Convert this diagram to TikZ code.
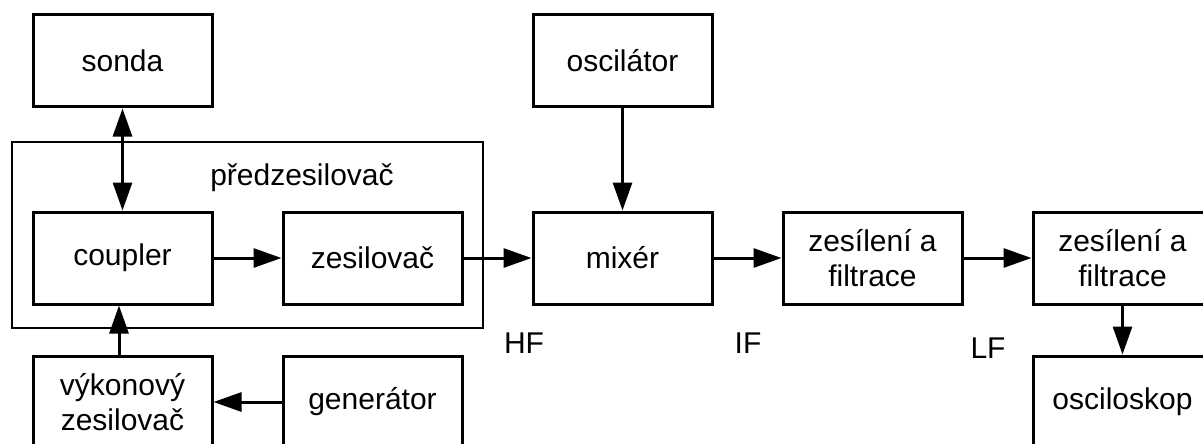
\documentclass[tikz,border=0pt]{standalone}
\usepackage{fontspec}
\setmainfont{Liberation Sans}
\usetikzlibrary{arrows.meta}
\begin{document}
\begin{tikzpicture}[x=1pt,y=-1pt,
  blk/.style={draw,line width=3pt,minimum width=179pt,minimum height=92pt,inner sep=0pt,align=center,font=\fontsize{30}{35}\selectfont},
  lbl/.style={inner sep=0pt,font=\fontsize{30}{35}\selectfont},
  arr/.style={line width=3pt,-{Triangle[length=28pt,width=19pt]}},
  darr/.style={line width=3pt,{Triangle[length=28pt,width=19pt]}-{Triangle[length=28pt,width=19pt]}}]
\useasboundingbox (0,0) rectangle (1203,444);
\clip (0,0) rectangle (1203,444);
\node[draw,line width=1.3pt,minimum width=471pt,minimum height=186pt,inner sep=0pt] (pre) at (247.5,235) {};
\node[lbl] (prel) at (302,178) {předzesilovač};
\node[blk] (sonda) at (122.5,61) {sonda};
\node[blk] (coupler) at (122.5,258) {coupler};
\node[blk] (zesil) at (372.5,258) {zesilovač};
\node[blk] (osc) at (622.5,61) {oscilátor};
\node[blk] (mixer) at (622.5,258) {mixér};
\node[blk] (zes1) at (872.5,258) {zesílení a\\filtrace};
\node[blk] (zes2) at (1122.5,258) {zesílení a\\filtrace};
\node[blk] (vyk) at (122.5,402) {výkonový\\zesilovač};
\node[blk] (gen) at (372.5,402) {generátor};
\node[blk] (oscil) at (1122.5,402) {osciloskop};
\node[lbl] (hf) at (524,343) {HF};
\node[lbl] (if) at (748,343) {IF};
\node[lbl] (lf) at (988,348) {LF};
\draw[darr] (sonda) -- (coupler);
\draw[arr] (coupler) -- (zesil);
\draw[arr] (zesil) -- (mixer);
\draw[arr] (osc) -- (mixer);
\draw[arr] (mixer) -- (zes1);
\draw[arr] (zes1) -- (zes2);
\draw[arr] (zes2) -- (oscil);
\draw[arr] (gen) -- (vyk);
\draw[arr] ([xshift=-3.5pt]vyk.north) -- ([xshift=-3.5pt]coupler.south);
\end{tikzpicture}
\end{document}
